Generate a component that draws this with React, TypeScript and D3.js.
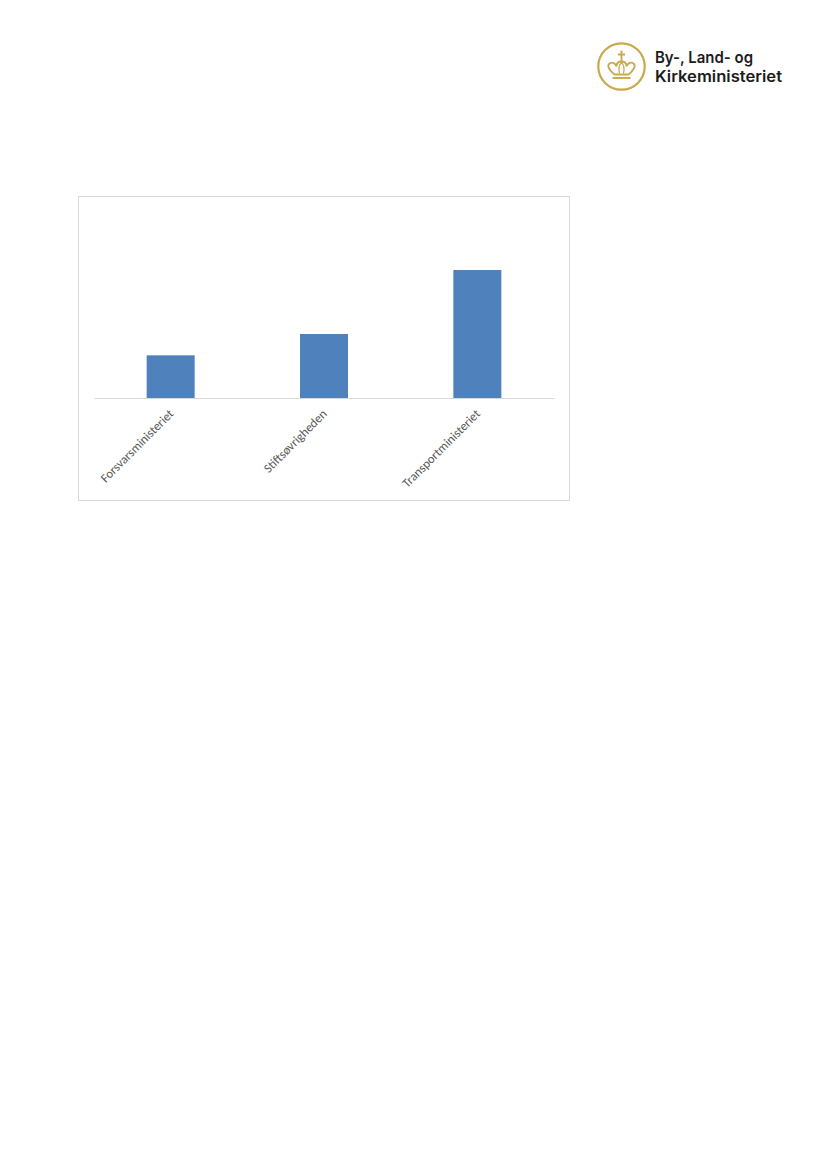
import React from "react";
import * as d3 from "d3";

const categories = ["Forsvarsministeriet", "Stiftsøvrigheden", "Transportministeriet"];
const values = [2, 3, 6];
const logoLines = ["By-, Land- og", "Kirkeministeriet"];

const gold = "#c9a94e";
const blue = "#4f81bd";

export default function App() {
  const x = d3.scaleBand<string>().domain(categories).range([94, 554]).paddingInner(0.687).paddingOuter(0.3435);
  const y = d3.scaleLinear().domain([0, 6]).range([398, 270]);
  return (
    <svg width={827} height={1169} style={{ position: "absolute", left: 0, top: 0, background: "#fff" }}>
      <rect x={78.5} y={196.5} width={491} height={304} fill="#fff" stroke="#d9d9d9" strokeWidth={1} />
      {categories.map((c, i) => (
        <rect key={c} x={x(c)} y={y(values[i])} width={x.bandwidth()} height={y(0) - y(values[i])} fill={blue} />
      ))}
      <line x1={94.5} x2={554.5} y1={398.5} y2={398.5} stroke="#d9d9d9" />
      {categories.map((c) => (
        <text
          key={c}
          transform={`translate(${(x(c) as number) + x.bandwidth() / 2 + 1.5},${412.5}) rotate(-45)`}
          textAnchor="end"
          dominantBaseline="middle"
          fontFamily="Carlito, Lato, sans-serif"
          fontSize={12.6}
          fill="#595959"
        >
          {c}
        </text>
      ))}
      <g transform="translate(621.5,66.5)" fill="none" stroke={gold}>
        <circle r={23.2} strokeWidth={2.2} />
        <path d="M0,-16 V-5 M-3.5,-12 H3.5" strokeWidth={1.9} />
        <path
          d="M-7,8 C-12,4 -15,-1 -12,-3 C-9,-5 -6,-3 -5,0 C-5,-3 -3,-5 0,-5 C3,-5 5,-3 5,0 C6,-3 9,-5 12,-3 C15,-1 12,4 7,8 Z"
          strokeWidth={1.8}
        />
        <path d="M-2,7 C-3,3 -3,-1 0,-4 C3,-1 3,3 2,7" strokeWidth={1.2} />
        <path d="M-9,11.5 H9" strokeWidth={1.9} />
      </g>
      <g fontFamily="Inter, Roboto, sans-serif" fontWeight={600} fontSize={16} fill="#1c1c1c">
        <text x={655} y={62.5} textLength={98} lengthAdjust="spacingAndGlyphs">{logoLines[0]}</text>
        <text x={655} y={82} textLength={127} lengthAdjust="spacingAndGlyphs">{logoLines[1]}</text>
      </g>
    </svg>
  );
}
